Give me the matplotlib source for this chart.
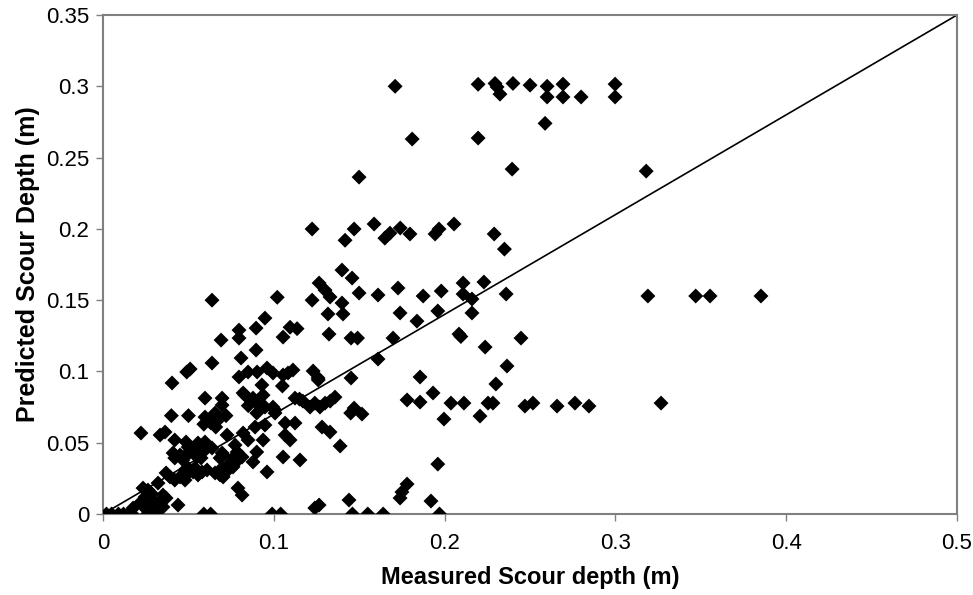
import numpy as np
import matplotlib
matplotlib.use("Agg")
import matplotlib.pyplot as plt

plt.rcParams['font.family'] = ['Liberation Sans', 'DejaVu Sans']

# measured vs predicted scour depth (m)
measured = [
    # zero row
    0.002, 0.005, 0.009, 0.012, 0.015, 0.017, 0.026, 0.029, 0.059, 0.063,
    0.099, 0.104, 0.146, 0.155, 0.164, 0.197,
    # near origin
    0.0176, 0.0222, 0.0246, 0.0263, 0.0293, 0.0316, 0.0334, 0.0351, 0.0263, 0.0246,
    0.0293, 0.0334, 0.0351, 0.0369, 0.0234, 0.0263, 0.0281, 0.0322, 0.0439,
    0.0369, 0.0392, 0.042, 0.0451, 0.048, 0.048, 0.0498, 0.0527, 0.0556, 0.0498,
    0.0539, 0.058, 0.0609, 0.0656, 0.0685, 0.0697, 0.0732, 0.0703,
    0.041, 0.042, 0.0451, 0.0468, 0.0486, 0.0509, 0.0556, 0.0574, 0.0597, 0.055,
    0.0222, 0.0334, 0.0363, 0.042, 0.0486, 0.0498, 0.0556, 0.0597,
    0.0568, 0.0638, 0.0703, 0.0685, 0.0773, 0.0785, 0.0761, 0.079, 0.0761, 0.0744,
    0.0697, 0.0814, 0.0773, 0.0761,
    0.0597, 0.0656, 0.0685, 0.072, 0.059, 0.063, 0.066,
    0.0726, 0.082, 0.0849, 0.0937, 0.089, 0.0948, 0.090, 0.1007, 0.1066, 0.1124,
    0.1066, 0.1095, 0.090, 0.0878, 0.1054, 0.1153, 0.096, 0.079, 0.0814,
    0.0597, 0.0697, 0.0697, 0.0831, 0.0878, 0.090, 0.0937, 0.0948, 0.0995, 0.082,
    0.085, 0.093, 0.1007,
    0.0796, 0.0849, 0.0902, 0.096, 0.0995, 0.1054, 0.1083, 0.1112, 0.105,
    0.0404, 0.049, 0.051, 0.0638, 0.0808, 0.0896, 0.0691, 0.0796, 0.0796, 0.0896,
    0.0948, 0.1095, 0.1136, 0.0638, 0.102, 0.040, 0.050,
    # middle band
    0.1054, 0.1323, 0.1452, 0.149, 0.1698, 0.2084, 0.2095, 0.2237, 0.2447,
    0.1224, 0.147, 0.1417, 0.1587, 0.165, 0.168, 0.174, 0.1797, 0.1944, 0.1967,
    0.2055, 0.229, 0.235, 0.1499, 0.2395, 0.318, 0.181, 0.2196, 0.2588, 0.171,
    0.1399, 0.1458, 0.1265, 0.130, 0.1329, 0.1224, 0.1399, 0.1499, 0.161, 0.1727,
    0.1874, 0.198, 0.2108, 0.223, 0.2108, 0.216, 0.236,
    0.1317, 0.1405, 0.1739, 0.1838, 0.196, 0.216,
    0.161, 0.1452, 0.126, 0.1856, 0.2365, 0.230, 0.1932,
    0.123, 0.1259,
    0.1124, 0.115, 0.117, 0.1212, 0.124, 0.127, 0.130, 0.133, 0.1358, 0.145,
    0.147, 0.1516, 0.178, 0.1856, 0.2037, 0.2113, 0.2254, 0.2283, 0.1996, 0.2207,
    0.247, 0.2517, 0.2658, 0.2763, 0.2845, 0.3267,
    0.1282, 0.1329, 0.1388, 0.196,
    0.178, 0.175, 0.1739, 0.192, 0.144, 0.124, 0.1265,
    # top row
    0.2196, 0.2295, 0.2307, 0.2324, 0.240, 0.250, 0.260, 0.260, 0.2693, 0.2693,
    0.2799, 0.2998, 0.2998,
    # 0.153 row
    0.319, 0.347, 0.3554, 0.3852,
]

predicted = [
    0.0, 0.0, 0.0, 0.0, 0.0, 0.0, 0.0, 0.0, 0.0, 0.0,
    0.0, 0.0, 0.0, 0.0, 0.0, 0.0,
    0.0042, 0.0084, 0.0042, 0.0028, 0.0049, 0.0028, 0.0042, 0.0049, 0.0077, 0.0119,
    0.0098, 0.0084, 0.0133, 0.0112, 0.0182, 0.0168, 0.0147, 0.0217, 0.0063,
    0.0288, 0.026, 0.0238, 0.026, 0.0238, 0.0309, 0.0288, 0.0295, 0.0274, 0.0323,
    0.0323, 0.0295, 0.0309, 0.0288, 0.0274, 0.0323, 0.0309, 0.026,
    0.0428, 0.0393, 0.0414, 0.0379, 0.0414, 0.0435, 0.0435, 0.0393, 0.0449, 0.040,
    0.0568, 0.0554, 0.0575, 0.0519, 0.0505, 0.047, 0.0498, 0.0505,
    0.047, 0.0463, 0.0414, 0.0393, 0.0484, 0.0435, 0.0393, 0.0379, 0.0344, 0.0358,
    0.0428, 0.040, 0.0365, 0.033,
    0.068, 0.0708, 0.0673, 0.069, 0.063, 0.064, 0.061,
    0.0554, 0.0568, 0.0519, 0.0519, 0.061, 0.0624, 0.0708, 0.0708, 0.0638, 0.0638,
    0.0554, 0.0519, 0.0435, 0.0365, 0.040, 0.0379, 0.0295, 0.0182, 0.0133,
    0.0813, 0.0813, 0.0764, 0.0834, 0.0813, 0.0778, 0.0834, 0.075, 0.075, 0.0849,
    0.076, 0.0905, 0.0729,
    0.0961, 0.0996, 0.0996, 0.1024, 0.0989, 0.0975, 0.0989, 0.101, 0.0898,
    0.0919, 0.0996, 0.1017, 0.1059, 0.1094, 0.115, 0.122, 0.1234, 0.129, 0.1304,
    0.1374, 0.131, 0.130, 0.150, 0.152, 0.069, 0.069,
    0.1241, 0.1262, 0.1234, 0.1234, 0.1234, 0.1262, 0.1245, 0.1171, 0.1234,
    0.1999, 0.1999, 0.192, 0.2034, 0.1935, 0.197, 0.2006, 0.1964, 0.1964, 0.1999,
    0.2034, 0.1964, 0.1858, 0.2363, 0.2419, 0.2405, 0.263, 0.2637, 0.274, 0.300,
    0.1711, 0.1655, 0.162, 0.157, 0.1522, 0.150, 0.148, 0.155, 0.1536, 0.1585,
    0.1529, 0.1564, 0.162, 0.1627, 0.1543, 0.1508, 0.1543,
    0.1403, 0.1403, 0.141, 0.1353, 0.1424, 0.141,
    0.1087, 0.0954, 0.094, 0.0961, 0.1038, 0.0912, 0.0849,
    0.1003, 0.0954,
    0.0813, 0.0806, 0.0792, 0.075, 0.0778, 0.075, 0.0778, 0.0792, 0.082, 0.0708,
    0.0743, 0.0701, 0.080, 0.0785, 0.0778, 0.0778, 0.0778, 0.0778, 0.0666, 0.0687,
    0.0757, 0.0778, 0.0757, 0.0778, 0.0757, 0.0778,
    0.061, 0.0575, 0.0477, 0.035,
    0.021, 0.0154, 0.0112, 0.0091, 0.0098, 0.0042, 0.0063,
    0.3014, 0.302, 0.2995, 0.2945, 0.302, 0.3008, 0.300, 0.2925, 0.3015, 0.2925,
    0.2925, 0.3015, 0.2925,
    0.1529, 0.1529, 0.1529, 0.1529,
]

x_ticks = [0, 0.1, 0.2, 0.3, 0.4, 0.5]
x_labels = ['0', '0.1', '0.2', '0.3', '0.4', '0.5']
y_ticks = [0, 0.05, 0.1, 0.15, 0.2, 0.25, 0.3, 0.35]
y_labels = ['0', '0.05', '0.1', '0.15', '0.2', '0.25', '0.3', '0.35']

fig = plt.figure(figsize=(9.73, 5.95), dpi=100)
ax = fig.add_axes([0.1059, 0.1361, 0.8777, 0.8387])

ax.scatter(measured, predicted, marker='D', s=58, color='black', edgecolors='none', zorder=3)
ax.plot([0, 0.5], [0, 0.35], color='black', lw=1.2, zorder=2)

ax.set_xlim(0, 0.5)
ax.set_ylim(0, 0.35)
ax.set_xticks(x_ticks)
ax.set_xticklabels(x_labels)
ax.set_yticks(y_ticks)
ax.set_yticklabels(y_labels)
ax.tick_params(direction='out', length=5, width=1, color='#808080', labelsize=16)
ax.tick_params(axis='x', pad=9)
ax.tick_params(axis='y', pad=5)

for s in ax.spines.values():
    s.set_color('#808080')
    s.set_linewidth(1.5)

ax.set_xlabel('Measured Scour depth (m)', fontsize=17, fontweight='bold', labelpad=8)
ax.set_ylabel('Predicted Scour Depth (m)', fontsize=18, fontweight='bold', labelpad=4)

fig.savefig('out.png', dpi=100)
